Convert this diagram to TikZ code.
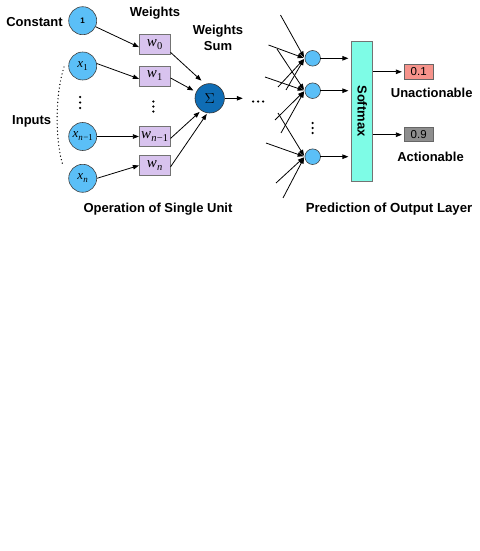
\documentclass[tikz,border=0pt]{standalone}
\usepackage{fontspec}
\setmainfont{Liberation Sans}
\newfontfamily\tms{Liberation Serif}
\usetikzlibrary{arrows.meta}
\definecolor{nodeblue}{HTML}{5BBFF7}
\definecolor{sigblue}{HTML}{0F6DB5}
\definecolor{wfill}{HTML}{D8C3EE}
\definecolor{smfill}{HTML}{7EFCE6}
\definecolor{redbox}{HTML}{F6938B}
\definecolor{graybox}{HTML}{8E8E8E}
\newcommand\myvar[3]{{\tms\itshape #1}\kern0.2pt\raisebox{-3pt}{\tms\fontsize{#3}{#3}\selectfont #2}}
\begin{document}
\begin{tikzpicture}[x=1pt,y=-1pt,
  lbl/.style={font=\fontsize{13}{15}\selectfont\bfseries, inner sep=0pt, anchor=base},
  inode/.style={circle, draw=black!75, fill=nodeblue, minimum size=28pt, inner sep=0pt, line width=0.6pt, font=\fontsize{13}{13}\selectfont},
  wbox/.style={draw=black!55, fill=wfill, minimum width=31pt, minimum height=20pt, inner sep=0pt, line width=0.6pt, font=\fontsize{15}{15}\selectfont},
  onode/.style={circle, draw=black!75, fill=nodeblue, minimum size=15.6pt, inner sep=0pt, line width=0.6pt},
  valbox/.style={draw=black!60, minimum width=29pt, minimum height=14pt, inner sep=0pt, line width=0.6pt, font=\fontsize{11.5}{12}\selectfont},
  arr/.style={-{Triangle[length=6pt,width=4.5pt]}, line width=0.8pt},
  bdot/.style={circle, fill=black, inner sep=0pt, minimum size=2.5pt},
]
\useasboundingbox (0,0) rectangle (479,551);

% input nodes
\node[inode, font=\fontsize{8}{8}\selectfont\bfseries] (c) at (82.7,20.7) {1};
\node[inode] (x1) at (82.7,66) {\myvar{x}{1}{9}};
\node[inode] (xn1) at (82.7,136.5) {\myvar{x}{{\itshape n}\kern0.3pt−1}{9}};
\node[inode] (xn) at (82.7,178.3) {\myvar{x}{\itshape n}{9}};

% weights
\node[wbox] (w0) at (154.7,44.3) {\myvar{w}{0}{10.5}};
\node[wbox] (w1) at (154.7,76) {\myvar{w}{1}{10.5}};
\node[wbox] (wn1) at (154.7,136.5) {\myvar{w}{{\itshape n}\kern0.3pt−1}{10.5}};
\node[wbox] (wn) at (154.7,165.5) {\myvar{w}{\itshape n}{10.5}};

% sum
\node[circle, draw=black!80, fill=sigblue, minimum size=29.4pt, inner sep=0pt, line width=0.6pt, font=\fontsize{15}{15}\selectfont] (sig) at (209.7,98.3) {$\Sigma$};

% labels
\node[lbl] (lconst) at (34.5,26.5) {Constant};
\node[lbl] (lw) at (155,16.7) {Weights};
\node[lbl] (lws1) at (218,34.4) {Weights};
\node[lbl] (lws2) at (218,51) {Sum};
\node[lbl] (linp) at (31.7,124.4) {Inputs};
\node[lbl] (lop) at (158,212.1) {Operation of Single Unit};
\node[lbl, font=\fontsize{13.2}{15}\selectfont\bfseries] (lpred) at (389,212.1) {Prediction of Output Layer};
\node[lbl] (lun) at (431.7,97) {Unactionable};
\node[lbl] (lac) at (430.5,161.7) {Actionable};

% vertical dots
\foreach \yy in {97,102.5,108} \node[bdot] at (80,\yy) {};
\foreach \yy in {101.5,106.5,111.5} \node[bdot] at (153.3,\yy) {};
\foreach \yy in {123,128,133} \node[bdot] at (312.7,\yy) {};

% dotted bracket
\draw[line width=1.4pt, line cap=round, dash pattern=on 0pt off 3.6pt] (64,67) .. controls (55,95) and (55,140) .. (63,166);

% input arrows
\draw[arr] (c.-25) -- (w0.190);
\draw[arr] (x1.10) -- (w1.190);
\draw[arr] (xn1.east) -- (wn1.west);
\draw[arr] (xn.east) -- (wn.west);

% to sum
\draw[arr, shorten >=5pt] (w0.-27) -- (sig.108);
\draw[arr, shorten >=3pt] (w1.-7) -- (sig.155);
\draw[arr, shorten >=2pt] (wn1.-7) -- (sig.235);
\draw[arr, shorten >=1pt] (wn.-5) -- (sig.261);

% sum to dots
\node[minimum width=30pt, inner sep=0pt, minimum height=4pt] (hd) at (258,98.3) {};
\draw[arr] (sig) -- (hd.west);
\foreach \xx in {253,258,263} \node[bdot] at (\xx,101.5) {};

% output nodes
\node[onode] (o1) at (312.7,58.3) {};
\node[onode] (o2) at (312.7,90.7) {};
\node[onode] (o3) at (312.7,156.7) {};

% incoming lines
\coordinate (p11) at (280.5,15);
\coordinate (p12) at (268.5,45);
\coordinate (p13) at (278,87);
\coordinate (p14) at (286,90);
\coordinate (p21) at (277,49);
\coordinate (p22) at (265,77);
\coordinate (p23) at (275,120);
\coordinate (p24) at (281,133);
\coordinate (p31) at (278,113);
\coordinate (p32) at (266,143);
\coordinate (p33) at (276,183);
\coordinate (p34) at (283,198);
\foreach \i in {1,2,3} {
  \foreach \j in {1,2,3,4} {
    \draw[arr, shorten >=1pt] (p\i\j) -- (o\i.west);
  }
}

% softmax
\node[draw=black!55, fill=smfill, minimum width=21pt, minimum height=140pt, inner sep=0pt, line width=0.6pt] (sm) at (362.2,111) {};
\node[rotate=-90, font=\fontsize{13}{13}\selectfont\bfseries, inner sep=0pt] (smt) at (sm.center) {Softmax};

\draw[arr, shorten <=7.5pt, shorten >=3pt] (o1.center) -- (o1.center -| sm.west);
\draw[arr, shorten <=7.5pt, shorten >=3pt] (o2.center) -- (o2.center -| sm.west);
\draw[arr, shorten <=7.5pt, shorten >=3pt] (o3.center) -- (o3.center -| sm.west);

% result boxes
\node[valbox, fill=redbox] (r1) at (418.7,71.8) {0.1};
\node[valbox, fill=graybox] (r9) at (418.7,134.7) {0.9};
\draw[arr, shorten >=2pt] (sm.east |- r1.west) -- (r1.west);
\draw[arr, shorten >=2pt] (sm.east |- r9.west) -- (r9.west);

\end{tikzpicture}
\end{document}
